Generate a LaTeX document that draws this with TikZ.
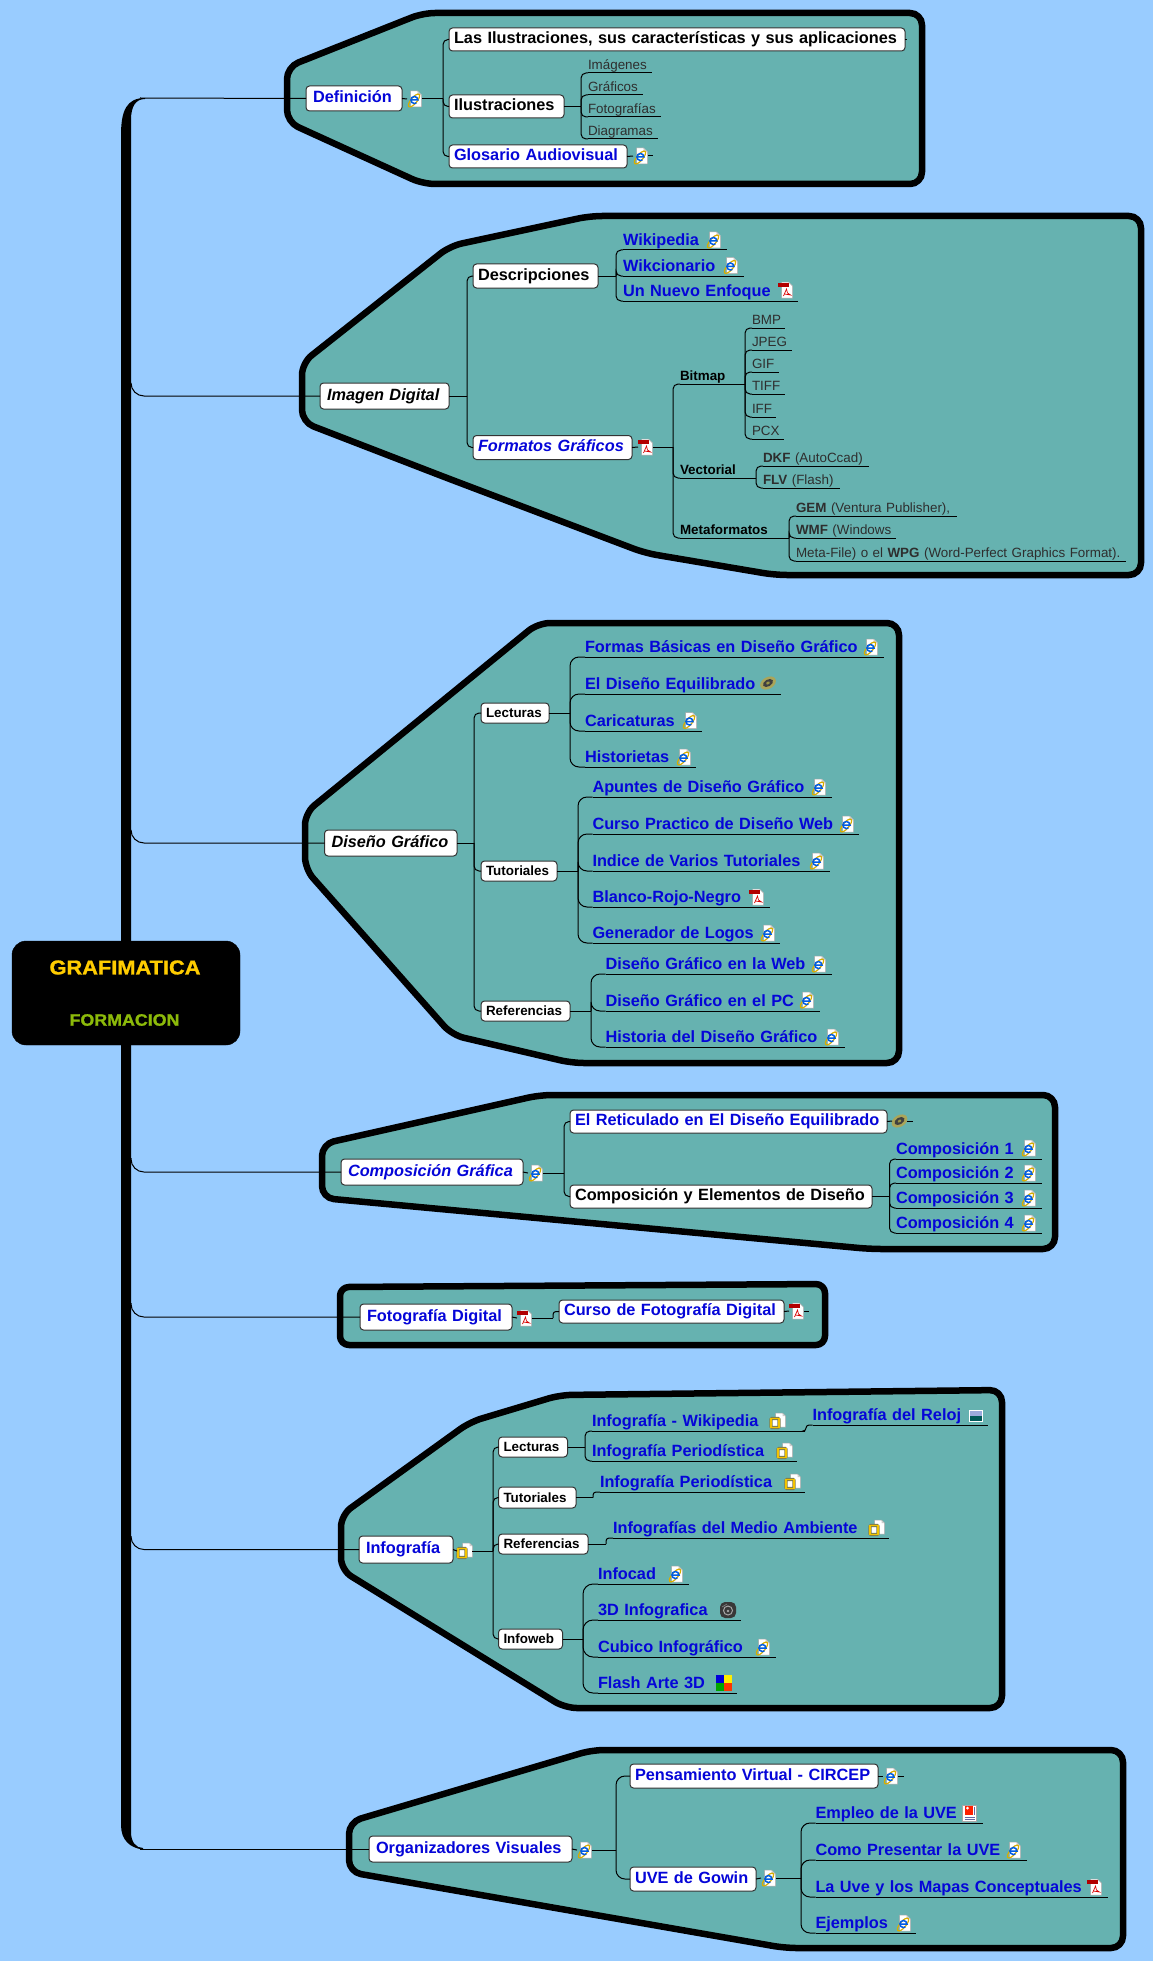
\documentclass[tikz,border=0pt]{standalone}
\usepackage{fontspec}
\setmainfont{Liberation Sans}
\newfontfamily\heavy[BoldFeatures={FakeBold=1.2}]{Liberation Sans}
\definecolor{bgc}{HTML}{99CCFF}
\definecolor{grp}{HTML}{66B2B0}
\definecolor{lnk}{HTML}{0505D8}
\definecolor{gry}{HTML}{2E2E2E}
\definecolor{gld}{HTML}{FFCC00}
\definecolor{grn}{HTML}{8CBA0A}
\newcommand\fA{\fontsize{16.3}{18}\selectfont\bfseries}
\newcommand\fB{\fontsize{13.4}{15}\selectfont\bfseries}
\newcommand\fC{\fontsize{13.4}{15}\selectfont}
\tikzset{
 grpshape/.style={draw=black,fill=grp,line width=6.5pt,rounded corners=12pt,line join=round},
 conn/.style={draw=black,line width=1pt,rounded corners=5pt},
 leafline/.style={draw=black,line width=1pt},
 basebox/.style={draw=black!80,fill=white,line width=1pt,rounded corners=3.5pt,inner ysep=0pt,outer sep=0pt,align=left,anchor=west},
 boxA/.style={basebox,font=\fA,text height=11.5pt,text depth=3.5pt},
 boxB/.style={basebox,font=\fB,text height=11pt,text depth=2pt},
 leafbase/.style={inner sep=0pt,outer sep=0pt,anchor=south west,align=left},
 leafA/.style={leafbase,font=\fA,text=lnk,text height=13pt,text depth=4.5pt},
 leafB/.style={leafbase,font=\fB,text=black,text height=11pt,text depth=3.5pt},
 leafC/.style={leafbase,font=\fC,text=gry,text height=11pt,text depth=3.5pt},
 icn/.style={inner sep=0pt,outer sep=0pt,minimum width=15pt,minimum height=16pt},
 pagefill/.style={fill=white,draw=black!35,line width=.5pt},
 iepic/.pic={
   \path[pagefill] (-4,-8) -- (3,-8) -- (7,-4) -- (7,8) -- (-4,8) -- cycle;
   \fill[black!20] (3,-8) -- (3,-4) -- (7,-4) -- cycle;
   \draw[color=gld!85!black,line width=1.2pt] (-0.5,1.5) ellipse [x radius=8pt,y radius=3pt,rotate=50];
   \draw[color=blue!60!cyan!90!black,line width=1.5pt] (-3.6,1) -- (3.4,1) arc[start angle=0,end angle=305,radius=3.5pt];
 },
 pdfpic/.pic={
   \path[pagefill] (-4,-8) -- (3,-8) -- (7,-4) -- (7,8) -- (-4,8) -- cycle;
   \fill[red!70!black] (-8,-7) rectangle (3,-3.5);
   \draw[red!85!black,line width=.7pt] (-2,6) -- (1,-1) -- (2,3) -- (5,5) -- (-1,4);
 },
 goldpic/.pic={
   \path[pagefill] (-2,-8) -- (5,-8) -- (8,-5) -- (8,6) -- (-2,6) -- cycle;
   \fill[black!20] (5,-8) -- (5,-5) -- (8,-5) -- cycle;
   \draw[draw=yellow!45!black,fill=white,line width=3.4pt,rounded corners=1pt] (-6.5,-2.5) rectangle (1.5,6.5);
   \draw[draw=gld!95!black,line width=1.8pt] (-6.5,-2.5) rectangle (1.5,6.5);
 },
 cdpic/.pic={
   \fill[yellow!55!black!85!white] (0,0) ellipse [x radius=8.5pt,y radius=5.8pt,rotate=30];
   \fill[black!75] (0,0) ellipse [x radius=5.5pt,y radius=3.4pt,rotate=30];
   \fill[yellow!55!black] (0,0) ellipse [x radius=2pt,y radius=1.3pt,rotate=30];
 },
 discpic/.pic={
   \fill[black!78,rounded corners=5pt] (-8,-8) rectangle (8,8);
   \draw[black!35,line width=1pt] (0,0.5) circle [radius=4.5pt];
   \fill[black!35] (0,1) circle [radius=1.4pt];
   \draw[black!50,line width=.7pt] (-6,-3) -- (-1,-6);
 },
 winpic/.pic={
   \fill[blue!85!black] (-8,-8) rectangle (0,0);
   \fill[yellow!95!orange] (0,-8) rectangle (8,0);
   \fill[green!65!black] (-8,0) rectangle (0,8);
   \fill[red!60!orange] (0,0) rectangle (8,8);
 },
 imgpic/.pic={
   \fill[white] (-7,-6) rectangle (7,6);
   \fill[cyan!35!blue!40!white] (-6,-5) rectangle (6,0);
   \fill[teal!70!black] (-6,0) rectangle (6,5);
 },
 docpic/.pic={
   \path[pagefill] (-7,-8) rectangle (7,8);
   \fill[red!75!orange] (-5,-7) rectangle (3,2);
   \fill[white] (-2,-5) circle [radius=1.5pt];
   \draw[blue!40!black!60,line width=.8pt] (-5,4) -- (5,4) (-5,6) -- (5,6) (5,-6) -- (5,2);
 },
}
\newcommand\bxp[8]{\pgfmathsetmacro\wdA{#4-#3}\pgfmathsetmacro\wdB{#4-#3-2*#8}\node[#2,anchor=west,inner xsep=#8pt,minimum width=\wdA pt,minimum height=#6pt,text width=\wdB pt] (#1) at (#3,#5) {\mbox{#7}};}
\newcommand\bx[7]{\bxp{#1}{#2}{#3}{#4}{#5}{#6}{#7}{7}}
\newcommand\bxs[7]{\bxp{#1}{#2}{#3}{#4}{#5}{#6}{#7}{5}}
\newcommand\leaf[6]{\pgfmathsetmacro\wdA{#5-#3}\node[#2,text width=\wdA pt] (#1) at (#3,#4) {\mbox{#6}};\draw[leafline] (#1.south west) -- (#1.south east);}
\newcommand\ico[4]{\node[icn] (#1) at (#3+7.5,#4) {};\pic at (#1) {#2};}
\newcommand\brk[4][]{\coordinate (bX) at (#3,0);\draw[leafline] (#2) -- (#2 -| bX);\foreach \c in {#4}{\draw[conn,#1] (#2 -| bX) |- (\c);}}
\newcommand\tick[3]{\coordinate (#1-end) at ([xshift=#2pt]#1.#3);\draw[conn] (#1.#3) -- (#1-end);}
\begin{document}
\begin{tikzpicture}[x=1pt,y=-1pt]
\useasboundingbox (0,0) rectangle (1153,1961);
\fill[bgc] (0,0) rectangle (1153,1961);
% trunk
\fill[black] (121,135) .. controls (121,110) and (127,98) .. (145,98) -- (145,99) .. controls (136,99) and (131,106) .. (131,120)
 -- (131,1832) .. controls (131,1842) and (136,1848) .. (143,1848) -- (143,1849.5) .. controls (130,1848) and (121,1840) .. (121,1825) -- cycle;
% groups
\path[grpshape] (287,67) -- (423,13) -- (922,13) -- (922,184) -- (423,184) -- (287,122) -- cycle;
\path[grpshape] (302,363) -- (450,246) -- (590,216) -- (1141,216) -- (1141,575) -- (775,575) -- (645,553) -- (447,478) -- (302,422) -- cycle;
\path[grpshape] (305,813) -- (538,623) -- (899,623) -- (899,1063) -- (572,1063) -- (452,1035) -- (305,869) -- cycle;
\path[grpshape] (322,1144) -- (540,1095) -- (1055,1095) -- (1055,1249) -- (870,1249) -- (322,1198) -- cycle;
\path[grpshape,rounded corners=9pt] (340,1287) -- (825,1284) -- (825,1345) -- (340,1345) -- cycle;
\path[grpshape] (341,1515) -- (470,1422) -- (560,1395) -- (1002,1390) -- (1002,1708) -- (565,1708) -- (341,1570) -- cycle;
\path[grpshape] (349,1822) -- (592,1750) -- (1123,1750) -- (1123,1948) -- (785,1948) -- (349,1872) -- cycle;
% ---- first-level boxes
\bx{def}{boxA,text=lnk}{306}{402}{98.5}{25}{Definición}
\bx{img}{boxA,text=black}{320}{449}{396}{26}{\itshape Imagen Digital}
\bx{dis}{boxA,text=black}{324.5}{457}{843}{26}{\itshape Diseño Gráfico}
\bx{com}{boxA,text=lnk}{341}{523}{1172}{26}{\itshape Composición Gráfica}
\bx{fot}{boxA,text=lnk}{360}{512}{1317}{26}{Fotografía Digital}
\bx{inf}{boxA,text=lnk}{359}{453}{1549.5}{27}{Infografía}
\bx{org}{boxA,text=lnk}{369}{572}{1849}{26}{Organizadores Visuales}
% trunk branches
\coordinate (t1) at (140,98);
\coordinate (t2) at (131,384);
\coordinate (t3) at (131,830);
\coordinate (t4) at (131,1158);
\coordinate (t5) at (131,1303);
\coordinate (t6) at (131,1536);
\coordinate (t7) at (140,1849);
\draw[conn] (t1) -- (def.west);
\draw[conn,rounded corners=13pt] (t2) |- (img.west);
\draw[conn,rounded corners=13pt] (t3) |- (dis.west);
\draw[conn,rounded corners=13pt] (t4) |- (com.west);
\draw[conn,rounded corners=13pt] (t5) |- (fot.west);
\draw[conn,rounded corners=13pt] (t6) |- (inf.west);
\draw[conn] (t7) -- (org.west);
% root
\node[fill=black,draw=black,rounded corners=14pt,minimum width=228pt,minimum height=104pt,inner sep=0pt] (root) at (126,993) {};
\node[font=\heavy\fontsize{20}{22}\selectfont\bfseries,text=gld,xscale=1.09,transform shape,inner sep=0pt] (ra) at (125,967.5) {GRAFIMATICA};
\node[font=\heavy\fontsize{16.5}{18}\selectfont\bfseries,text=grn,xscale=1.08,transform shape,inner sep=0pt] (rb) at (124.5,1020) {FORMACION};
% ---- Definicion
\ico{defi}{iepic}{407}{99}
\draw[conn] (def.east) -- (defi.west);
\bxs{d1}{boxA,text=black}{449}{905}{39.5}{23}{Las Ilustraciones, sus características y sus aplicaciones}
\bxs{d2}{boxA,text=black}{449}{564}{106.5}{23}{Ilustraciones}
\bxs{d3}{boxA,text=lnk}{449}{627}{156.5}{23}{Glosario Audiovisual}
\brk{defi.east}{443}{d1.west,d2.west,d3.west}
\tick{d1}{2}{east}
\ico{d3i}{iepic}{633}{156}
\draw[conn] (d3.east) -- (d3i.west);
\tick{d3i}{5}{east}
\leaf{d21}{leafC}{588}{73}{652}{Imágenes}
\leaf{d22}{leafC}{588}{95}{643}{Gráficos}
\leaf{d23}{leafC}{588}{117}{661}{Fotografías}
\leaf{d24}{leafC}{588}{139}{658}{Diagramas}
\brk{d2.east}{581}{d21.south west,d22.south west,d23.south west,d24.south west}
% ---- Imagen Digital
\bxs{i1}{boxA,text=black}{473}{598}{276}{24}{Descripciones}
\bxs{i2}{boxA,text=lnk}{473}{632}{447.5}{24}{\itshape Formatos Gráficos}
\brk{img.east}{467}{i1.west,i2.west}
\leaf{i11}{leafA}{623}{250}{727}{Wikipedia}
\leaf{i12}{leafA}{623}{276}{744}{Wikcionario}
\leaf{i13}{leafA}{623}{301}{797.5}{Un Nuevo Enfoque}
\ico{i11i}{iepic}{706}{240}
\ico{i12i}{iepic}{723}{265.5}
\ico{i13i}{pdfpic}{778}{290}
\brk{i1.east}{616}{i11.south west,i12.south west,i13.south west}
\ico{i2i}{pdfpic}{638}{447}
\draw[conn] (i2.east) -- (i2i.west);
\leaf{ib}{leafB}{680}{384}{745}{Bitmap}
\leaf{iv}{leafB}{680}{478}{756}{Vectorial}
\leaf{im}{leafB}{680}{538}{789}{Metaformatos}
\brk{i2i.east}{673}{ib.south west,iv.south west,im.south west}
\leaf{b1}{leafC}{752}{328}{785}{BMP}
\leaf{b2}{leafC}{752}{350}{792}{JPEG}
\leaf{b3}{leafC}{752}{372}{779}{GIF}
\leaf{b4}{leafC}{752}{394}{785}{TIFF}
\leaf{b5}{leafC}{752}{417}{776}{IFF}
\leaf{b6}{leafC}{752}{439}{784}{PCX}
\brk{ib.south east}{745}{b1.south west,b2.south west,b3.south west,b4.south west,b5.south west,b6.south west}
\leaf{v1}{leafC}{763}{466}{869}{\textbf{DKF} (AutoCcad)}
\leaf{v2}{leafC}{763}{488}{840}{\textbf{FLV} (Flash)}
\brk{iv.south east}{756}{v1.south west,v2.south west}
\leaf{m1}{leafC}{796}{516}{957}{\textbf{GEM} (Ventura Publisher),}
\leaf{m2}{leafC}{796}{538}{896}{\textbf{WMF} (Windows}
\leaf{m3}{leafC}{796}{561}{1126}{Meta-File) o el \textbf{WPG} (Word-Perfect Graphics Format).}
\brk{im.south east}{789}{m1.south west,m2.south west,m3.south west}
% ---- Diseno
\bxs{s1}{boxB,text=black}{481}{549}{713}{20}{Lecturas}
\bxs{s2}{boxB,text=black}{481}{557}{871}{20}{Tutoriales}
\bxs{s3}{boxB,text=black}{481}{570}{1011}{20}{Referencias}
\brk{dis.east}{474}{s1.west,s2.west,s3.west}
\leaf{l1}{leafA}{585}{657}{884}{Formas Básicas en Diseño Gráfico}
\leaf{l2}{leafA}{585}{694}{781}{El Diseño Equilibrado}
\leaf{l3}{leafA}{585}{731}{702}{Caricaturas}
\leaf{l4}{leafA}{585}{767}{696}{Historietas}
\ico{l1i}{iepic}{863}{647}
\ico{l2i}{cdpic}{760.5}{683}
\ico{l3i}{iepic}{682}{720.5}
\ico{l4i}{iepic}{676}{757}
\brk[rounded corners=9pt]{s1.east}{570}{l1.south west,l2.south west,l3.south west,l4.south west}
\leaf{u1}{leafA}{592.5}{797}{832}{Apuntes de Diseño Gráfico}
\leaf{u2}{leafA}{592.5}{834}{859}{Curso Practico de Diseño Web}
\leaf{u3}{leafA}{592.5}{871}{830}{Indice de Varios Tutoriales}
\leaf{u4}{leafA}{592.5}{907}{770}{Blanco-Rojo-Negro}
\leaf{u5}{leafA}{592.5}{943}{780}{Generador de Logos}
\ico{u1i}{iepic}{811}{787}
\ico{u2i}{iepic}{839}{824}
\ico{u3i}{iepic}{809}{861}
\ico{u4i}{pdfpic}{749}{897}
\ico{u5i}{iepic}{760}{933}
\brk[rounded corners=9pt]{s2.east}{578}{u1.south west,u2.south west,u3.south west,u4.south west,u5.south west}
\leaf{r1}{leafA}{605.5}{974}{832}{Diseño Gráfico en la Web}
\leaf{r2}{leafA}{605.5}{1011}{820}{Diseño Gráfico en el PC}
\leaf{r3}{leafA}{605.5}{1047}{845}{Historia del Diseño Gráfico}
\ico{r1i}{iepic}{811}{964}
\ico{r2i}{iepic}{799}{1000}
\ico{r3i}{iepic}{824}{1037}
\brk[rounded corners=9pt]{s3.east}{591}{r1.south west,r2.south west,r3.south west}
% ---- Composicion
\ico{comi}{iepic}{528}{1173}
\draw[conn] (com.east) -- (comi.west);
\bxs{c1}{boxA,text=lnk}{570}{887}{1121.5}{23}{El Reticulado en El Diseño Equilibrado}
\bxs{c2}{boxA,text=black}{570}{872}{1196.5}{23}{Composición y Elementos de Diseño}
\brk{comi.east}{564}{c1.west,c2.west}
\ico{c1i}{cdpic}{892}{1121}
\draw[conn] (c1.east) -- (c1i.west);
\tick{c1i}{6}{east}
\leaf{c21}{leafA}{896}{1159}{1042}{Composición 1}
\leaf{c22}{leafA}{896}{1183}{1042}{Composición 2}
\leaf{c23}{leafA}{896}{1208}{1042}{Composición 3}
\leaf{c24}{leafA}{896}{1233}{1042}{Composición 4}
\ico{c21i}{iepic}{1021}{1148}
\ico{c22i}{iepic}{1021}{1173}
\ico{c23i}{iepic}{1021}{1198}
\ico{c24i}{iepic}{1021}{1223}
\brk{c2.east}{889.5}{c21.south west,c22.south west,c23.south west,c24.south west}
% ---- Fotografia
\ico{foti}{pdfpic}{517}{1318}
\draw[conn] (fot.east) -- (foti.west);
\bxs{f1}{boxA,text=lnk}{559}{784}{1311.5}{23}{Curso de Fotografía Digital}
\brk[rounded corners=3pt]{foti.east}{553}{f1.west}
\ico{f1i}{pdfpic}{789}{1311}
\draw[conn] (f1.east) -- (f1i.west);
\tick{f1i}{5}{east}
% ---- Infografia
\ico{infi}{goldpic}{457}{1551}
\draw[conn] (inf.east) -- (infi.west);
\bxs{n1}{boxB,text=black}{498.5}{567.5}{1447}{20}{Lecturas}
\bxs{n2}{boxB,text=black}{498.5}{576}{1497.5}{21}{Tutoriales}
\bxs{n3}{boxB,text=black}{498.5}{588}{1544}{20}{Referencias}
\bxs{n4}{boxB,text=black}{498.5}{562.5}{1639}{20}{Infoweb}
\brk{infi.east}{493}{n1.west,n2.west,n3.west,n4.west}
\leaf{n11}{leafA}{592}{1431}{805}{Infografía - Wikipedia}
\leaf{n12}{leafA}{592}{1461}{797}{Infografía Periodística}
\ico{n11i}{goldpic}{770}{1421}
\ico{n12i}{goldpic}{777}{1451}
\brk{n1.east}{585}{n11.south west,n12.south west}
\leaf{n111}{leafA}{812.5}{1425}{987.5}{Infografía del Reloj}
\ico{n111i}{imgpic}{968}{1416}
\draw[conn,rounded corners=3pt] (n11.south east) -- ++(1,0) |- (n111.south west);
\leaf{n21}{leafA}{600}{1492}{805}{Infografía Periodística}
\ico{n21i}{goldpic}{785}{1482}
\brk[rounded corners=3pt]{n2.east}{593}{n21.south west}
\leaf{n31}{leafA}{613}{1538}{888.5}{Infografías del Medio Ambiente}
\ico{n31i}{goldpic}{869}{1528}
\brk[rounded corners=3pt]{n3.east}{606}{n31.south west}
\leaf{n41}{leafA}{598}{1584}{688.5}{Infocad}
\leaf{n42}{leafA}{598}{1620}{741}{3D Infografica}
\leaf{n43}{leafA}{598}{1657}{776}{Cubico Infográfico}
\leaf{n44}{leafA}{598}{1693}{737}{Flash Arte 3D}
\ico{n41i}{iepic}{668}{1574}
\ico{n42i}{discpic}{720.5}{1610}
\ico{n43i}{iepic}{755}{1647}
\ico{n44i}{winpic}{716.5}{1683}
\brk[rounded corners=10pt]{n4.east}{583}{n41.south west,n42.south west,n43.south west,n44.south west}
% ---- Organizadores
\ico{orgi}{iepic}{577}{1850}
\draw[conn] (org.east) -- (orgi.west);
\bxs{o1}{boxA,text=lnk}{630}{878}{1776}{24}{Pensamiento Virtual - CIRCEP}
\bxs{o2}{boxA,text=lnk}{630}{756}{1879}{24}{UVE de Gowin}
\brk[rounded corners=9pt]{orgi.east}{616}{o1.west,o2.west}
\ico{o1i}{iepic}{883}{1776}
\draw[conn] (o1.east) -- (o1i.west);
\tick{o1i}{6}{east}
\ico{o2i}{iepic}{761}{1878}
\draw[conn] (o2.east) -- (o2i.west);
\leaf{o21}{leafA}{815.5}{1823}{983}{Empleo de la UVE}
\leaf{o22}{leafA}{815.5}{1860}{1027}{Como Presentar la UVE}
\leaf{o23}{leafA}{815.5}{1897}{1108}{La Uve y los Mapas Conceptuales}
\leaf{o24}{leafA}{815.5}{1933}{915.5}{Ejemplos}
\ico{o21i}{docpic}{962}{1813}
\ico{o22i}{iepic}{1006}{1850}
\ico{o23i}{pdfpic}{1087}{1887}
\ico{o24i}{iepic}{896}{1923}
\brk[rounded corners=9pt]{o2i.east}{801}{o21.south west,o22.south west,o23.south west,o24.south west}
\end{tikzpicture}
\end{document}
